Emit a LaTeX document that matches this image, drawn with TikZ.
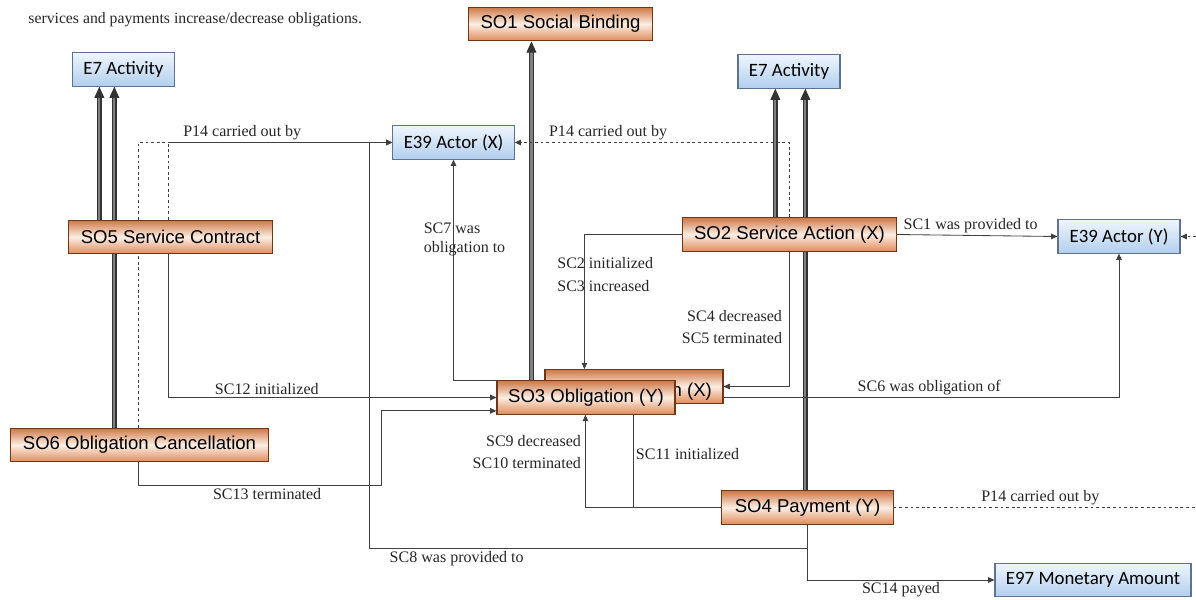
\documentclass[tikz,border=0pt]{standalone}
\usepackage{fontspec}
\setmainfont{Liberation Serif}
\newfontfamily\arialfont{Liberation Sans}
\newfontfamily\calfont{Carlito}
\usetikzlibrary{calc,arrows.meta,backgrounds}
\definecolor{sotop}{RGB}{205,120,70}
\definecolor{somid}{RGB}{252,238,228}
\definecolor{sobot}{RGB}{222,140,90}
\definecolor{soline}{RGB}{110,55,25}
\definecolor{etop}{RGB}{238,245,253}
\definecolor{ebot}{RGB}{178,207,238}
\definecolor{eline}{RGB}{95,115,145}
\tikzset{
    so node/.style = {
        draw = soline,
        thick,
        top color = sotop,
        bottom color = sobot,
        middle color = somid,
        font = \arialfont\fontsize{13.2}{15}\selectfont,
        minimum height = 8.4mm,
        inner sep = 0pt,
        },
    e node/.style = {
        draw = eline,
        thick,
        top color = etop,
        bottom color = ebot,
        font = \calfont\fontsize{13.4}{15}\selectfont,
        minimum height = 8.3mm,
        inner sep = 0pt,
        },
    isa/.style = {
        draw = black!80,
        line width = 0.8pt,
        double = black!50,
        double distance = 1.6pt,
        -{Triangle[length=8pt,width=7pt]},
        },
    rel/.style = {
        draw = black!75,
        line width = 0.6pt,
        -{Triangle[length=4.5pt,width=4pt]},
        },
    p14/.style = {
        rel,
        dash pattern = on 2pt off 2pt,
        },
    sc text/.style = {
        font = \fontsize{11.4}{13.5}\selectfont,
        inner sep = 1.5pt,
        text = black!85,
        },
}
\begin{document}
\begin{tikzpicture}[x=0.25mm, y=-0.25mm]
    \useasboundingbox (0,0) rectangle (1196,599);

    \node[sc text, anchor=west, font=\fontsize{11.2}{13}\selectfont] (intro) at (26,20) {services and payments increase/decrease obligations.};

    \node[e node, minimum width=25.3mm] (e7l) at (123.5,69.5) {E7 Activity};
    \node[so node, minimum width=45.8mm] (so1) at (560.5,24) {SO1 Social Binding};
    \node[e node, minimum width=25.5mm] (e7r) at (789,71.5) {E7 Activity};
    \node[e node, minimum width=30.3mm] (e39x) at (453.5,142.5) {E39 Actor (X)};
    \node[so node, minimum width=50.8mm] (so5) at (170.5,237) {SO5 Service Contract};
    \node[so node, minimum width=53.3mm] (so2) at (789.5,234.5) {SO2 Service Action (X)};
    \node[e node, minimum width=30.5mm] (e39y) at (1119,236.5) {E39 Actor (Y)};
    \node[so node, minimum width=44.5mm] (so3x) at (634,386.5) {\raisebox{-7pt}[0pt][0pt]{SO3 Obligation (X)}};
    \node[so node, minimum width=44.5mm] (so3y) at (586,397.5) {SO3 Obligation (Y)};
    \node[so node, minimum width=64.3mm] (so6) at (139.5,445) {SO6 Obligation Cancellation};
    \node[so node, minimum width=42.8mm] (so4) at (807.5,507.5) {SO4 Payment (Y)};
    \node[e node, minimum width=49mm] (e97) at (1093,580) {E97 Monetary Amount};

    \coordinate (edge r1) at (1196,236.5);
    \coordinate (edge r2) at (1196,507.5);

    \begin{pgfonlayer}{background}
        % is-a links
        \draw[isa] ($(so5.north west)+(31,0)$) coordinate (t) -- (t |- e7l.south);
        \draw[isa] ($(so6.north west)+(104,0)$) coordinate (t) -- (t |- e7l.south);
        \draw[isa] ($(so2.north west)+(93,0)$) coordinate (t) -- (t |- e7r.south);
        \draw[isa] ($(so4.north west)+(84,0)$) coordinate (t) -- (t |- e7r.south);
        \draw[isa] ($(so3y.north west)+(35,0)$) coordinate (t) -- (t |- so1.south);

        % P14 carried out by
        \coordinate (p) at ($(so5.north west)+(100,0)$);
        \draw[p14, -] ($(so6.north west)+(128,0)$) coordinate (t) -- (t |- e39x.west) -- (p |- e39x.west);
        \draw[p14, -] (p) -- (p |- e39x.west);
        \draw[rel] (p |- e39x.west) -- node[sc text, above, pos=0.33] {P14 carried out by} (e39x.west);
        \draw[p14] ($(so2.north west)+(107,0)$) coordinate (t) -- (t |- e39x.east)
            -- node[sc text, above, pos=0.66] {P14 carried out by} (e39x.east);
        \draw[p14, -] (so4.east) -- node[sc text, above, pos=0.485] {P14 carried out by} (edge r2);
        \draw[p14] (edge r1) -- (e39y.east);

        % SC links
        \draw[rel] (so2.east) -- node[sc text, above, pos=0.46] {SC1 was provided to} (e39y.west);
        \draw[rel] (so2.west) -| node[sc text, align=left, anchor=west, pos=0.65, xshift=-7.4mm] {SC2 initialized\\[3pt]SC3 increased} ($(so3x.north west)+(40,0)$);
        \draw[rel] ($(so2.south west)+(107,0)$) |- node[sc text, align=right, anchor=east, pos=0.28, xshift=-1.2mm] {SC4 decreased\\[2pt]SC5 terminated} (so3x.east);
        \draw[rel] ($(so3x.east)+(0,10.5)$) -| node[sc text, above, pos=0.26] {SC6 was obligation of} (e39y.south);
        \draw[rel] (so3y.north west) -| node[sc text, align=left, pos=0.82, xshift=2.75mm] {SC7 was\\obligation to} (e39x.south);
        \draw[rel] (so4.south) -- ++(0,23.5) -- node[sc text, below, pos=0.8] {SC8 was provided to} ++(-438.5,0) |- (e39x.west);
        \draw[rel] (so4.west) -| node[sc text, align=right, anchor=east, pos=0.8, xshift=-0.5mm] {SC9 decreased\\[2pt]SC10 terminated} ($(so3y.south west)+(89,0)$);
        \draw[rel] (so4.west) -| node[sc text, anchor=west, pos=0.76] {SC11 initialized} ($(so3x.south west)+(89,0)$);
        \draw[rel] ($(so5.south west)+(100,0)$) |- node[sc text, above, pos=0.65] {SC12 initialized} (so3y.west);
        \draw[rel] ($(so6.south west)+(128,0)$) -- ++(0,23) -- node[sc text, below, pos=0.53] {SC13 terminated} ++(243,0) |- ($(so3y.south west)+(0,-4)$);
        \draw[rel] (so4.south) |- node[sc text, below, pos=0.75] {SC14 payed} (e97.west);
    \end{pgfonlayer}
\end{tikzpicture}
\end{document}
